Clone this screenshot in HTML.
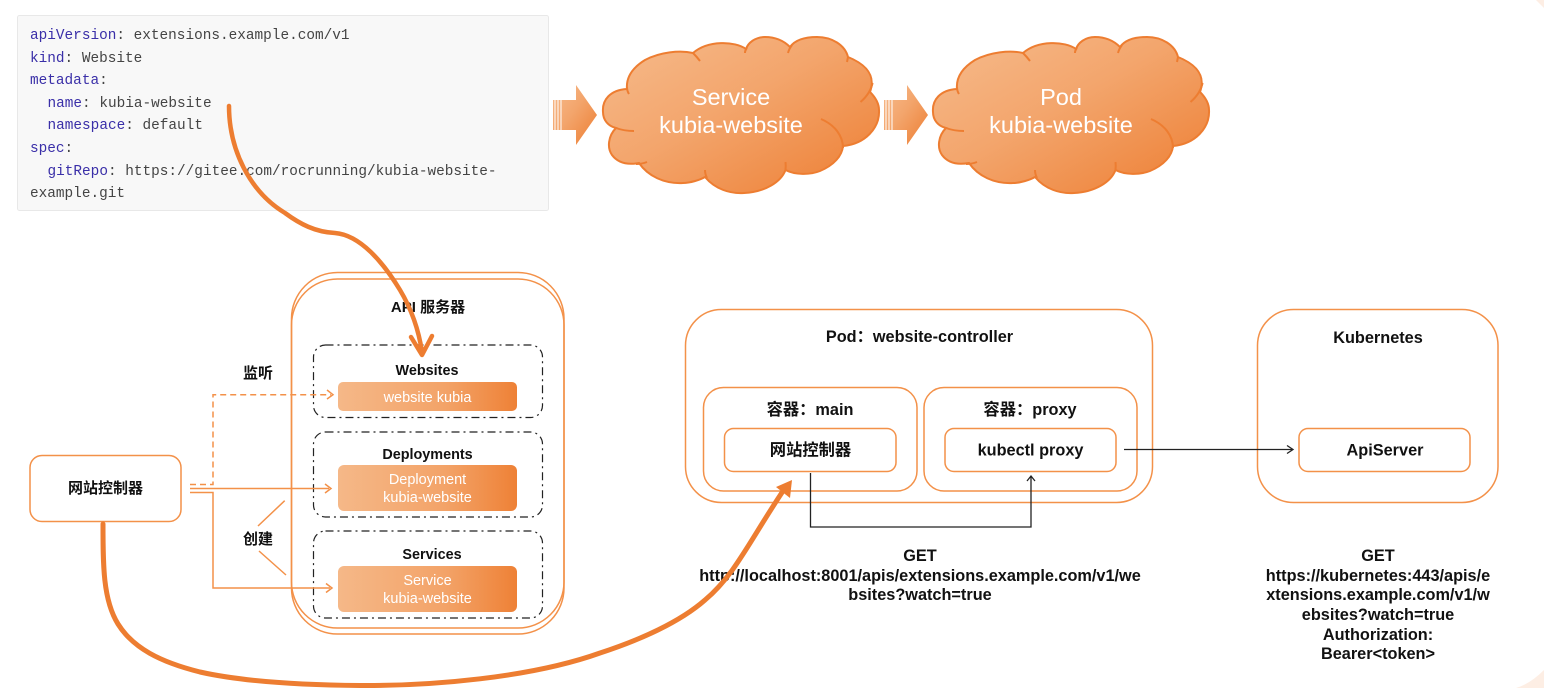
<!DOCTYPE html>
<html><head><meta charset="utf-8"><style>
html,body{margin:0;padding:0;background:#fff;width:1544px;height:688px;overflow:hidden}
svg{display:block}
text{font-family:"Liberation Sans","Noto Sans CJK SC",sans-serif}
.b{font-weight:bold;font-size:15px;fill:#111;text-anchor:middle}
.s{font-size:14.4px}
.m{font-size:16.3px}
.w{font-size:14.5px;fill:#fff;text-anchor:middle}
.c{font-family:"Liberation Mono",monospace;font-size:14.4px;fill:#444}
.c tspan{fill:#3a2fa8}
.cl{font-size:23.5px;fill:#fff;text-anchor:middle}
</style></head><body>
<svg width="1544" height="688" viewBox="0 0 1544 688" xmlns="http://www.w3.org/2000/svg">
<defs>
<linearGradient id="g" x1="0" y1="0" x2="1" y2="1"><stop offset="0" stop-color="#f6bb8c"/><stop offset=".45" stop-color="#f3a56c"/><stop offset="1" stop-color="#ed7d31"/></linearGradient>
<linearGradient id="g2" x1="0" y1="0" x2="1" y2="0"><stop offset="0" stop-color="#f5b888"/><stop offset=".6" stop-color="#f3a368"/><stop offset="1" stop-color="#ee8136"/></linearGradient>
<g id="cloud">
<path d="M627,89 C610,90 602,100 603,112 C603,120 608,126 616,128 C608,136 607,148 612,155 C618,163 628,165 639,163 C648,176 664,184 683,183 C690,183 700,180 705,177 C715,189 730,194 744,193 C765,192 781,182 785.5,170 C795,175 810,175 820,171 C834,165 842,156 843,146 C865,144 880,128 879,110 C879,103 875,97 870,92 C875,78 870,66 848,57 C845,45 832,37 817,37 C805,37 795,40 790,47 C782,39 773,37 765,37 C755,37 748,43 746,49 C735,41 708,40 693,53 C680,50 660,52 645,60 C632,68 626,78 627,89 Z" fill="url(#g)" stroke="#ed7d31" stroke-width="2"/>
<g fill="none" stroke="#ed7d31" stroke-width="2">
<path d="M627,87 Q627,91 629,94"/><path d="M616,128 Q624,131 634,131"/><path d="M647,162 Q642,164 636,164"/><path d="M705,170 Q705,174 707,178"/><path d="M785.5,162 Q786,166 785.5,170"/>
<path d="M821,119 C835,125 843,136 843,148"/><path d="M860.5,102 Q870,94 872.6,83"/><path d="M847,62 L848,57"/><path d="M788,53 Q789,49 792,45"/><path d="M745,53 Q745,50 747,48"/><path d="M693,53 Q697,57 700,61"/>
</g></g>
<g id="blk">
<polygon points="553,100 576,100 576,85 597,115 576,145 576,130 553,130" fill="url(#g)"/>
<path d="M555,99V131M558,99V131M561,99V131" stroke="#fff" stroke-width="1"/>
</g>
</defs>
<rect x="0" y="0" width="1544" height="688" fill="#fff"/>
<path d="M1544,670 Q1530,684 1516,688 L1544,688 Z" fill="#fdeee4"/>
<path d="M1536,0 L1544,8 L1544,0 Z" fill="#fdeee4"/>
<rect x="17.500" y="15.500" width="531" height="195" rx="2" fill="#f8f8f8" stroke="#e8e8e8"/>
<text class="c" x="30" y="39"><tspan>apiVersion</tspan>: extensions.example.com/v1</text>
<text class="c" x="30" y="62"><tspan>kind</tspan>: Website</text>
<text class="c" x="30" y="84"><tspan>metadata</tspan>:</text>
<text class="c" x="47.500" y="107"><tspan>name</tspan>: kubia-website</text>
<text class="c" x="47.500" y="129"><tspan>namespace</tspan>: default</text>
<text class="c" x="30" y="152"><tspan>spec</tspan>:</text>
<text class="c" x="47.500" y="175"><tspan>gitRepo</tspan>: https://gitee.com/rocrunning/kubia-website-</text>
<text class="c" x="30" y="197">example.git</text>

<use href="#blk"/><use href="#blk" x="331"/>
<use href="#cloud"/><use href="#cloud" x="330"/>
<text class="cl" x="731" y="105">Service</text>
<text class="cl" x="731" y="133">kubia-website</text>
<text class="cl" x="1061" y="105">Pod</text>
<text class="cl" x="1061" y="133">kubia-website</text>

<g fill="none" stroke="#f39149" stroke-width="1.500">
<rect x="291.500" y="272.500" width="272.500" height="355.500" rx="46"/>
<rect x="291.500" y="279" width="272.500" height="355" rx="46"/>
<rect x="30" y="455.500" width="151" height="66" rx="12"/>
<rect x="685.500" y="309.500" width="467" height="193" rx="36"/>
<rect x="703.500" y="387.500" width="213.500" height="103.500" rx="20"/>
<rect x="924" y="387.500" width="213" height="103.500" rx="20"/>
<rect x="724.500" y="428.500" width="171.500" height="43" rx="9"/>
<rect x="945" y="428.500" width="171" height="43" rx="9"/>
<rect x="1257.500" y="309.500" width="240.500" height="193" rx="36"/>
<rect x="1299" y="428.500" width="171" height="43" rx="9"/>
</g>
<g fill="none" stroke="#222" stroke-width="1.200" stroke-dasharray="8 4 2 4">
<rect x="313.500" y="345" width="229" height="72.500" rx="12"/>
<rect x="313.500" y="432" width="229" height="85" rx="12"/>
<rect x="313.500" y="531" width="229" height="87" rx="12"/>
</g>
<rect x="338" y="382" width="179" height="29" rx="5" fill="url(#g2)"/>
<rect x="338" y="465" width="179" height="46" rx="6" fill="url(#g2)"/>
<rect x="338" y="566" width="179" height="46" rx="6" fill="url(#g2)"/>
<text class="b" x="428" y="312">API 服务器</text>
<text class="b s" x="427" y="375">Websites</text>
<text class="w" x="427.500" y="402">website kubia</text>
<text class="b s" x="427.500" y="459">Deployments</text>
<text class="w" x="427.500" y="484">Deployment</text>
<text class="w" x="427.500" y="502">kubia-website</text>
<text class="b s" x="432" y="559">Services</text>
<text class="w" x="427.500" y="585">Service</text>
<text class="w" x="427.500" y="603">kubia-website</text>
<text class="b" x="258" y="378">监听</text>
<text class="b" x="258" y="544">创建</text>
<text class="b" x="105.500" y="493">网站控制器</text>

<g fill="none" stroke="#f39149" stroke-width="1.500">
<path d="M190,484.500H213V394.700H331" stroke-dasharray="6 4"/>
<path d="M190,488.500H329"/>
<path d="M190,492.500H213V588H330"/>
<path d="M284.700,500.700L258,526M259,551L286,575"/>
<path d="M327,390L333,394.700L327,399M325,484L331,488.500L325,493M326,583.500L332,588L326,592.500"/>
</g>

<text class="b m" x="919.500" y="342">Pod：website-controller</text>
<text class="b m" x="810" y="415">容器：main</text>
<text class="b m" x="1030" y="415">容器：proxy</text>
<text class="b m" x="810.500" y="455.500">网站控制器</text>
<text class="b m" x="1030.500" y="455.500">kubectl proxy</text>
<text class="b m" x="1378" y="343">Kubernetes</text>
<text class="b m" x="1385" y="455.500">ApiServer</text>
<text class="b m" x="920" y="561">GET</text>
<text class="b m" x="920" y="581">http://localhost:8001/apis/extensions.example.com/v1/we</text>
<text class="b m" x="920" y="600">bsites?watch=true</text>
<text class="b m" x="1378" y="561">GET</text>
<text class="b m" x="1378" y="581">https://kubernetes:443/apis/e</text>
<text class="b m" x="1378" y="600">xtensions.example.com/v1/w</text>
<text class="b m" x="1378" y="620">ebsites?watch=true</text>
<text class="b m" x="1378" y="640">Authorization:</text>
<text class="b m" x="1378" y="659">Bearer&lt;token&gt;</text>
<g fill="none" stroke="#222" stroke-width="1.300">
<path d="M810.500,473V527H1031V476"/>
<path d="M1027,481L1031,476L1035,481"/>
<path d="M1124,449.500H1293"/>
<path d="M1287,445.500L1293,449.500L1287,453.500"/>
</g>

<g fill="none" stroke="#ed7d31" stroke-linecap="round" stroke-linejoin="round">
<path stroke-width="4.500" d="M229,106 C229,150 250,192 285,213 C300,224 315,232 335,233 C360,235 383,262 400,290 C412,310 419,332 422,352"/>
<path stroke-width="4.500" d="M411,337L422,355L432,336"/>
<path stroke-width="5" d="M103,524 C103,565 103,600 118,624 C133,648 160,662 200,672 C240,681 300,685 360,685.500 C430,686 530,678 600,653 C640,640 680,622 705,600 C735,575 750,540 785,488"/>
</g>
<polygon points="792,480 776,487 790,498" fill="#ed7d31"/>
</svg>
</body></html>
